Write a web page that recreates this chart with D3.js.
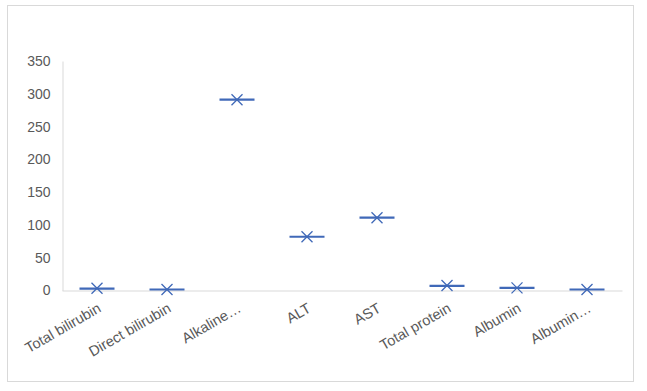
<html>
<script src='https://d3js.org/d3.v7.min.js'></script>
<style>
  body {margin: 0; background: #fff;}
  text {font-family: 'Liberation Sans', Arial, sans-serif; fill: #595959;}
</style>
<body onload='init()'>
<svg width=647 height=391></svg>
<script>
// category labels as shown (long names truncated by the original chart)
var categories = ["Total bilirubin", "Direct bilirubin", "Alkaline\u2026", "ALT", "AST",
                  "Total protein", "Albumin", "Albumin\u2026"];
// box plot values per category (boxes are collapsed, so q1 = median = q3)
var medians = [3, 1.5, 291, 82, 111, 7, 4, 1.5];
var means   = [3.5, 1.5, 291, 82, 111, 7.5, 4, 1.5];
var yTicks  = [0, 50, 100, 150, 200, 250, 300, 350];

function init() {
  var svg = d3.select('svg');
  var blue = '#4069b8';

  // outer chart border
  svg.append('rect')
    .attr('x', 7.5).attr('y', 5.5)
    .attr('width', 626).attr('height', 376)
    .attr('fill', 'none').attr('stroke', '#d9d9d9');

  var x = d3.scaleBand().domain(categories).range([62, 622]);
  var y = d3.scaleLinear().domain([0, 350]).range([290.5, 61]);

  // y axis
  var yAxis = svg.append('g')
    .attr('transform', 'translate(62.5,0)')
    .call(d3.axisLeft(y).tickValues(yTicks).tickSize(0).tickPadding(12));
  yAxis.select('.domain').attr('stroke', '#d9d9d9');
  yAxis.selectAll('text').attr('font-size', 14).attr('fill', '#595959')
    .style('font-family', "'Liberation Sans', Arial, sans-serif");

  // x axis
  var xAxis = svg.append('g')
    .attr('transform', 'translate(0,290.5)')
    .call(d3.axisBottom(x).tickSize(0).tickFormat(''));
  xAxis.select('.domain').attr('stroke', '#d9d9d9');

  // rotated category labels
  svg.append('g').selectAll('text')
    .data(categories)
    .enter().append('text')
    .attr('text-anchor', 'end')
    .attr('font-size', 14.5)
    .attr('transform', function(d) {
      return 'translate(' + (x(d) + x.bandwidth() / 2 + 5) + ',311) rotate(-30)';
    })
    .text(function(d) { return d; });

  // median lines (collapsed boxes)
  var boxW = x.bandwidth() * 0.5;
  svg.append('g').selectAll('line')
    .data(categories)
    .enter().append('line')
    .attr('x1', function(d) { return x(d) + x.bandwidth() / 2 - boxW / 2; })
    .attr('x2', function(d) { return x(d) + x.bandwidth() / 2 + boxW / 2; })
    .attr('y1', function(d, i) { return y(medians[i]); })
    .attr('y2', function(d, i) { return y(medians[i]); })
    .attr('stroke', blue).attr('stroke-width', 2.2);

  // mean markers (X)
  var s = 5.5;
  svg.append('g').selectAll('path')
    .data(categories)
    .enter().append('path')
    .attr('d', function(d, i) {
      var cx = x(d) + x.bandwidth() / 2, cy = y(means[i]);
      return 'M' + (cx - s) + ',' + (cy - s) + 'L' + (cx + s) + ',' + (cy + s) +
             'M' + (cx - s) + ',' + (cy + s) + 'L' + (cx + s) + ',' + (cy - s);
    })
    .attr('stroke', blue).attr('stroke-width', 1.3).attr('fill', 'none');
}
</script>
</body>
</html>
